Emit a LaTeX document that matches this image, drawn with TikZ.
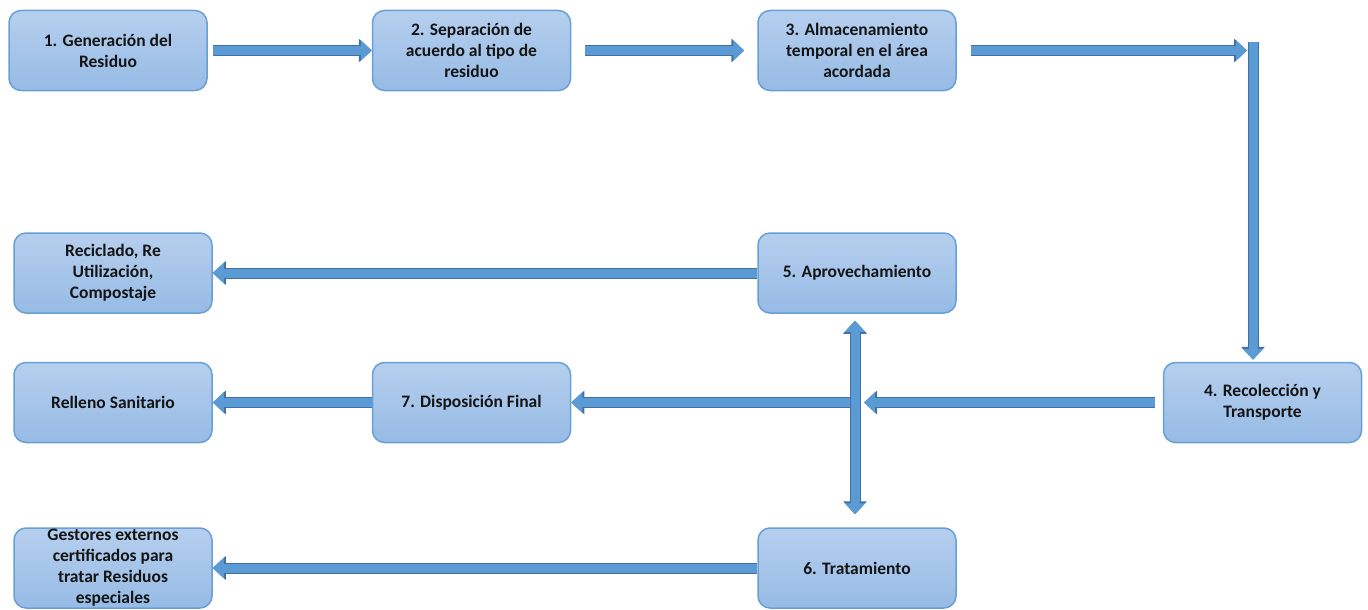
\documentclass[tikz,border=0pt]{standalone}
\usepackage{fontspec}
\setmainfont{Carlito}
\usetikzlibrary{arrows.meta}
\definecolor{boxtop}{RGB}{182,207,238}
\definecolor{boxbot}{RGB}{150,187,229}
\definecolor{boxline}{RGB}{104,160,214}
\definecolor{arrfill}{RGB}{91,155,213}
\definecolor{arrline}{RGB}{65,113,160}
\tikzset{
  blocktip/.tip={Triangle[length=11pt,width=20pt]},
  blocktipo/.tip={Triangle[length=13pt,width=23pt]},
}
\begin{document}
\begin{tikzpicture}[x=1pt,y=-1pt,
  box/.style={rounded corners=12pt, draw=boxline, line width=1.5pt,
    top color=boxtop, bottom color=boxbot, minimum width=198pt,
    minimum height=80pt, inner sep=2pt, align=center,
    font=\fontsize{17.5}{21}\selectfont\bfseries, text=black!92},
  blk/.style={line width=9pt, draw=arrfill, -blocktip,
    preaction={draw=arrline, line width=11pt, -blocktipo}},
  dblk/.style={line width=9pt, draw=arrfill, blocktip-blocktip,
    preaction={draw=arrline, line width=11pt, blocktipo-blocktipo}},
]
\useasboundingbox (0,0) rectangle (1368,610);

\node[box] (n1) at (108,50.5) {1. Generación del\\Residuo};
\node[box] (n2) at (471.5,50.5) {2. Separación de\\acuerdo al tipo de\\residuo};
\node[box] (n3) at (857,50.5) {3. Almacenamiento\\temporal en el área\\acordada};
\node[box] (n4) at (1262.5,402.5) {4. Recolección y\\Transporte};
\node[box] (n5) at (857,273) {5. Aprovechamiento};
\node[box] (n6) at (857,568) {6. Tratamiento};
\node[box] (n7) at (471.5,402.5) {7. Disposición Final};
\node[box] (d1) at (113,273) {Reciclado, Re\\Utilización,\\Compostaje};
\node[box] (d2) at (113,402.5) {Relleno Sanitario};
\node[box, inner ysep=0pt] (d3) at (113,568) {Gestores externos\\certificados para\\tratar Residuos\\especiales};

\coordinate (c1) at (1249,50.5);
\coordinate (ctop) at (1253,42);
\coordinate (c2) at (855,402.5);

\draw[blk, shorten <=5pt] (n1) -- (n2);
\draw[blk, shorten <=14pt, shorten >=13pt] (n2) -- (n3);
\draw[blk, shorten <=14pt, shorten >=2pt] (n3) -- (c1);
\draw[blk, shorten >=2pt] (ctop) -- (ctop |- n4.north);

\draw[blk] (c2) -- (n7);
\draw[dblk, shorten <=7pt, shorten >=13pt] (n5.south -| c2) -- (n6.north -| c2);
\draw[blk, shorten <=8pt, shorten >=9pt] (n4) -- (c2);

\draw[blk] (n5) -- (d1);
\draw[blk] (n7) -- (d2);
\draw[blk] (n6) -- (d3);
\end{tikzpicture}
\end{document}
